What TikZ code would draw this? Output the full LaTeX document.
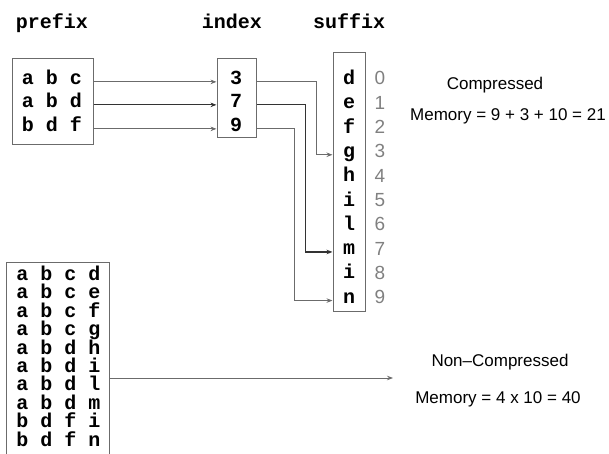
\documentclass[tikz,border=0pt]{standalone}
\usepackage{fontspec}
\setmainfont{Liberation Sans}
\setmonofont{Liberation Mono}
\usetikzlibrary{arrows.meta}
\definecolor{linegray}{gray}{0.42}
\definecolor{darkline}{gray}{0.2}
\definecolor{digitgray}{gray}{0.5}
\begin{document}
\begin{tikzpicture}[x=1pt,y=-1pt,
  box/.style={draw=linegray, line width=1pt, inner sep=0pt},
  tt/.style={font=\fontsize{20}{20}\selectfont\ttfamily\bfseries, inner sep=0pt, anchor=base},
  lbl/.style={font=\fontsize{17}{17}\selectfont, inner sep=0pt, anchor=base},
  dig/.style={font=\fontsize{19}{19}\selectfont, text=digitgray, inner sep=0pt, anchor=base},
  conn/.style={draw=linegray, line width=0.9pt, -{Stealth[length=6pt,width=4.5pt]}},
  connd/.style={draw=darkline, line width=1.2pt, -{Stealth[length=6pt,width=4.5pt]}}]
\useasboundingbox (0,0) rectangle (609,454);
% headers
\node[tt] (hp) at (52,29) {prefix};
\node[tt] (hi) at (232,29) {index};
\node[tt] (hs) at (349,29) {suffix};
% boxes
\node[box, minimum width=81pt, minimum height=86pt] (pbox) at (52.5,102) {};
\node[box, minimum width=39pt, minimum height=79pt] (ibox) at (236.5,98.5) {};
\node[box, minimum width=32pt, minimum height=258pt] (sbox) at (349,182) {};
\node[box, minimum width=103pt, minimum height=200pt] (bbox) at (57.5,362) {};
% prefix rows
\node[tt] (p1) at (52,84.5) {a b c};
\node[tt] (p2) at (52,107.5) {a b d};
\node[tt] (p3) at (52,131.5) {b d f};
% index rows
\node[tt] (i1) at (236,84.5) {3};
\node[tt] (i2) at (236,107.5) {7};
\node[tt] (i3) at (236,131.5) {9};
% suffix rows and gray indices
\foreach \t [count=\i from 0] in {d,e,f,g,h,i,l,m,i,n}{
  \pgfmathsetmacro{\yy}{79+24.3*\i+5.5}
  \node[tt] (s\i) at (349,\yy) {\t};
  \node[dig] (n\i) at (380,\yy+0.5) {\i};
}
% bottom rows
\foreach \t [count=\i from 0] in {{a b c d},{a b c e},{a b c f},{a b c g},{a b d h},{a b d i},{a b d l},{a b d m},{b d f i},{b d f n}}{
  \pgfmathsetmacro{\yy}{275+18.4*\i+5.5}
  \node[tt] (b\i) at (58.5,\yy) {\t};
}
% connectors prefix -> index
\draw[conn] (pbox.east |- p1.mid) -- (ibox.west |- p1.mid);
\draw[connd] (pbox.east |- p2.mid) -- (ibox.west |- p2.mid);
\draw[conn] (pbox.east |- p3.mid) -- (ibox.west |- p3.mid);
% connectors index -> suffix
\draw[conn] (ibox.east |- i1.mid) -- ++(60,0) |- (sbox.west |- s3.mid);
\draw[connd] (ibox.east |- i2.mid) -- ++(49,0) |- (sbox.west |- s7.mid);
\draw[conn] (ibox.east |- i3.mid) -- ++(38,0) |- (sbox.west |- s9.mid);
% non-compressed connector
\coordinate (nc) at (393,378);
\draw[conn] (bbox.east |- nc) -- (nc);
% texts
\node[lbl] (comp) at (495,90) {Compressed};
\node[lbl] (cmem) at (508,121) {Memory = 9 + 3 + 10 = 21};
\node[lbl] (ncomp) at (500,366) {Non--Compressed};
\node[lbl] (nmem) at (498,403) {Memory = 4 x 10 = 40};
\end{tikzpicture}
\end{document}
